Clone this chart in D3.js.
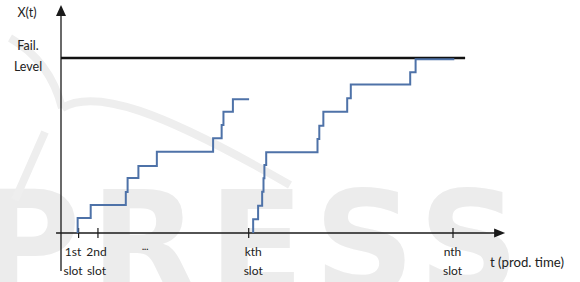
<!DOCTYPE html>
<html>
<head>
<meta charset="utf-8">
<script src="https://cdn.jsdelivr.net/npm/d3@7"></script>
<style>
  body { margin: 0; background: #fff; }
  svg { display: block; font-family: Lato, "Open Sans", sans-serif; }
</style>
</head>
<body>
<svg width="580" height="282"></svg>
<script>
// degradation paths X(t) against production time

// jump points: at time t the level steps up to X
var firstPath = [[3.7, 0], [3.7, 8.6], [6.6, 16], [14.4, 23.4], [14.8, 31.4], [17.2, 38.3],
                 [21.3, 46.5], [33.8, 54.1], [35.7, 61.7], [36.1, 69.3], [38.2, 76.4], [41.8, 76.4]];
var kthPath = [[42.7, 0], [42.7, 7.8], [43.8, 15.6], [44.7, 23.6], [45.0, 31.3], [45.2, 38.9],
               [45.6, 46.1], [57.0, 53.7], [57.4, 61.3], [58.3, 69.3], [63.6, 77], [64.4, 84.9],
               [77.6, 91.8], [78.8, 99.3], [87.4, 99.3]];

var failLevel = 100;
var failEnd = 89.8;

var slotTicks = [3.8, 8.1, 41.6, 87.0];
var slotNames = ["1st", "2nd", "kth", "nth"];
var gapT = 18.7;

var svg = d3.select("svg");

// scales
var x = d3.scaleLinear().domain([0, 100]).range([61, 511]);
var y = d3.scaleLinear().domain([0, 100]).range([233, 58]);

// faint watermark in the background
var wm = svg.append("g").attr("class", "watermark");
wm.append("text")
  .attr("x", -22).attr("y", 292)
  .attr("font-family", "DejaVu Sans")
  .attr("font-weight", "bold")
  .attr("font-size", 140)
  .attr("letter-spacing", 10)
  .attr("fill", "#ececec")
  .text("PRESS");
wm.append("path")
  .attr("d", "M 10 38 C 40 55, 55 80, 62 108 M 62 108 C 95 88, 160 110, 290 185 M 15 200 L 45 132")
  .attr("fill", "none")
  .attr("stroke", "#eeeeee")
  .attr("stroke-width", 8);

var axisColor = "#1a1a1a";

// y axis with arrow
svg.append("line")
   .attr("x1", x(0)).attr("x2", x(0))
   .attr("y1", y(-21.7)).attr("y2", y(124))
   .attr("stroke", axisColor).attr("stroke-width", 1.3);
svg.append("path")
   .attr("d", "M" + x(0) + "," + y(130.3) + " l-5,11 l10,0 z")
   .attr("fill", axisColor);

// x axis with arrow
var xAxis = d3.axisBottom(x)
              .tickValues(slotTicks)
              .tickSizeInner(5)
              .tickSizeOuter(0)
              .tickFormat("");

var gx = svg.append("g")
            .attr("class", "x axis")
            .attr("transform", "translate(0," + y(0) + ")")
            .call(xAxis);
gx.select(".domain").remove();
gx.selectAll(".tick line")
  .attr("y1", -5).attr("y2", 5)
  .attr("stroke", axisColor).attr("stroke-width", 1.2);

svg.append("line")
   .attr("x1", x(-1.1)).attr("x2", x(97))
   .attr("y1", y(0)).attr("y2", y(0))
   .attr("stroke", axisColor).attr("stroke-width", 1.3);
svg.append("path")
   .attr("d", "M" + x(98.7) + "," + y(0) + " l-11,-4.5 l0,9 z")
   .attr("fill", axisColor);

// slot labels (hand nudged like in the original figure)
var labelShift = [-5, -1, 5, 0];
var labels = svg.append("g")
                .attr("font-size", 12)
                .attr("fill", "#222")
                .attr("text-anchor", "middle");
slotTicks.forEach(function(t, i) {
    var lx = x(t) + labelShift[i];
    var lab = labels.append("text").attr("x", lx);
    lab.append("tspan").attr("x", lx).attr("y", 256).text(slotNames[i]);
    lab.append("tspan").attr("x", lx).attr("y", 275).text("slot");
});
labels.append("text")
      .attr("x", x(gapT)).attr("y", 250)
      .attr("font-size", 9).attr("font-weight", "bold")
      .text("...");

svg.append("text")
   .attr("x", 490).attr("y", 267)
   .attr("font-size", 13.2).attr("fill", "#222")
   .text("t (prod. time)");

// y labels
var ylab = svg.append("g")
              .attr("font-size", 12.5)
              .attr("fill", "#222")
              .attr("text-anchor", "middle");
ylab.append("text").attr("x", 27).attr("y", 17).text("X(t)");
ylab.append("text").attr("x", 28).attr("y", 50).text("Fail.");
ylab.append("text").attr("x", 28).attr("y", 71).text("Level");

// failure threshold
svg.append("line")
   .attr("x1", x(0)).attr("x2", x(failEnd))
   .attr("y1", y(failLevel)).attr("y2", y(failLevel))
   .attr("stroke", "#111").attr("stroke-width", 2.4);

// step paths
var line = d3.line()
             .x(function(d) { return x(d[0]); })
             .y(function(d) { return y(d[1]); })
             .curve(d3.curveStepAfter);

svg.selectAll(".path")
   .data([firstPath, kthPath])
   .enter().append("path")
   .attr("class", "path")
   .attr("d", line)
   .attr("fill", "none")
   .attr("stroke", "#4e72a8")
   .attr("stroke-width", 2);
</script>
</body>
</html>
